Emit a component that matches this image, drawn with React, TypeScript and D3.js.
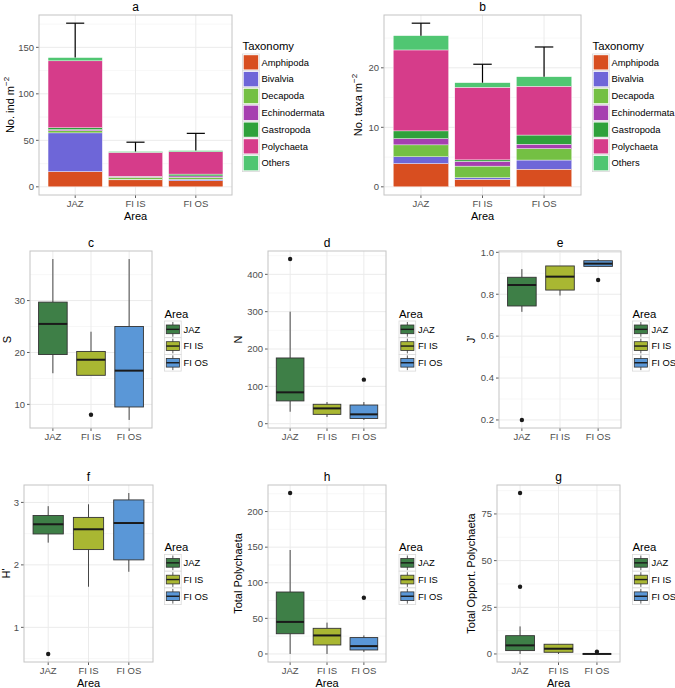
import React from "react";
import * as d3 from "d3";

const areas = ["JAZ", "FI IS", "FI OS"];
const taxa = ["Amphipoda", "Bivalvia", "Decapoda", "Echinodermata", "Gastropoda", "Polychaeta", "Others"];
const taxaColors = ["#D84E20", "#6E66D8", "#74C043", "#A63FB0", "#2FA13B", "#D63C8A", "#50C672"];
const areaColors = ["#3E7F47", "#A9B732", "#5A97D7"];

// panel a: individuals per m2, segment sizes by taxon (stack order bottom->top)
const indJAZ = [16.4, 41.6, 2.3, 1.2, 2.0, 72.0, 3.5];
const indFIIS = [7.5, 0.5, 2.2, 0.8, 0.3, 25.7, 1.0];
const indFIOS = [6.5, 1.5, 2.2, 1.5, 2.0, 24.0, 1.3];
const indErrTop = [176, 48, 57.5];
const indTicks = [0, 50, 100, 150];

// panel b: taxa per m2
const taxJAZ = [3.9, 1.15, 2.0, 1.05, 1.3, 13.6, 2.4];
const taxFIIS = [1.25, 0.28, 1.95, 0.8, 0.25, 12.2, 0.77];
const taxFIOS = [2.96, 1.54, 1.92, 0.74, 1.54, 8.2, 1.6];
const taxErrTop = [27.5, 20.6, 23.5];
const taxTicks = [0, 10, 20];

// box stats: [lower whisker, Q1, median, Q3, upper whisker]
const statS = [[16, 19.6, 25.5, 29.7, 38], [15.6, 15.6, 18.6, 20.2, 24], [7, 9.5, 16.5, 25, 38]];
const outS = [[], [8], []];
const ticksS = [10, 20, 30];

const statN = [[32, 61, 84, 176, 300], [18, 25, 41, 52, 58], [10, 14, 25, 50, 58]];
const outN = [[441], [], [118]];
const ticksN = [0, 100, 200, 300, 400];

const statJ = [[0.716, 0.744, 0.844, 0.881, 0.92], [0.794, 0.82, 0.884, 0.935, 0.935], [0.933, 0.933, 0.946, 0.96, 0.968]];
const outJ = [[0.2], [], [0.868]];
const ticksJ = [0.2, 0.4, 0.6, 0.8, 1.0];

const statH = [[2.356, 2.495, 2.65, 2.79, 2.94], [1.65, 2.245, 2.57, 2.76, 2.97], [1.89, 2.08, 2.67, 3.04, 3.15]];
const outH = [[0.574], [], []];
const ticksH = [1, 2, 3];

const statP = [[0, 28.4, 45, 87, 146], [0, 12.6, 26, 36, 44], [2.8, 5.6, 11, 23, 26]];
const outP = [[226], [], [79]];
const ticksP = [0, 50, 100, 150, 200];

const statO = [[0, 1.8, 4.6, 9.8, 14.75], [0, 0.9, 2.8, 5.2, 5.3], [0, 0, 0, 0, 0]];
const outO = [[36, 86.2], [], [1.2]];
const ticksO = [0, 25, 50, 75];

const FONT = "'Liberation Sans', Arial, Helvetica, sans-serif";

type Rect = { x0: number; y0: number; x1: number; y1: number };

function expand(lo: number, hi: number): [number, number] {
  const d = (hi - lo) * 0.05;
  return [lo - d, hi + d];
}

function Frame({ r, y, ticks, fmt, xs, title, ylab, xlab }: any) {
  const minors: number[] = [];
  const [dlo, dhi] = y.domain();
  const step = ticks[1] - ticks[0];
  for (let v = ticks[0] - step / 2; v <= dhi; v += step) {
    if (v >= dlo) minors.push(v);
  }
  const cx = (r.x0 + r.x1) / 2;
  const cy = (r.y0 + r.y1) / 2;
  return (
    <g>
      <rect x={r.x0} y={r.y0} width={r.x1 - r.x0} height={r.y1 - r.y0} fill="#fff" />
      {minors.map((v, i) => (
        <line key={"mn" + i} x1={r.x0} x2={r.x1} y1={y(v)} y2={y(v)} stroke="#f2f2f2" strokeWidth={0.6} />
      ))}
      {ticks.map((v: number, i: number) => (
        <line key={"mj" + i} x1={r.x0} x2={r.x1} y1={y(v)} y2={y(v)} stroke="#ebebeb" strokeWidth={1} />
      ))}
      {areas.map((a, i) => (
        <line key={"vx" + i} x1={xs(i + 1)} x2={xs(i + 1)} y1={r.y0} y2={r.y1} stroke="#ebebeb" strokeWidth={1} />
      ))}
      {ticks.map((v: number, i: number) => (
        <g key={"yt" + i}>
          <line x1={r.x0 - 3} x2={r.x0} y1={y(v)} y2={y(v)} stroke="#333" strokeWidth={0.8} />
          <text x={r.x0 - 5} y={y(v)} dy="0.35em" textAnchor="end" fontSize={9.5} fill="#4d4d4d" fontFamily={FONT}>
            {fmt ? fmt(v) : String(v)}
          </text>
        </g>
      ))}
      {areas.map((a, i) => (
        <g key={"xt" + i}>
          <line x1={xs(i + 1)} x2={xs(i + 1)} y1={r.y1} y2={r.y1 + 3} stroke="#333" strokeWidth={0.8} />
          <text x={xs(i + 1)} y={r.y1 + 12} textAnchor="middle" fontSize={9.5} fill="#4d4d4d" fontFamily={FONT}>
            {a}
          </text>
        </g>
      ))}
      <text x={cx} y={r.y0 - 4} textAnchor="middle" fontSize={12} fill="#000" fontFamily={FONT}>
        {title}
      </text>
      {xlab && (
        <text x={cx} y={r.y1 + 24.5} textAnchor="middle" fontSize={11} fill="#000" fontFamily={FONT}>
          {xlab}
        </text>
      )}
      <text
        transform={`translate(${ylab.x},${cy}) rotate(-90)`}
        textAnchor="middle"
        dy="0.35em"
        fontSize={11}
        fill="#000"
        fontFamily={FONT}
      >
        {ylab.text}
        {ylab.sup && (
          <tspan fontSize={8} dy="-5">
            {ylab.sup}
          </tspan>
        )}
      </text>
    </g>
  );
}

function Border({ r }: { r: Rect }) {
  return <rect x={r.x0} y={r.y0} width={r.x1 - r.x0} height={r.y1 - r.y0} fill="none" stroke="#c4c4c4" strokeWidth={1} />;
}

function BarPanel({ r, segs, errTop, ticks, title, ylab, legendX }: any) {
  const xs = d3.scaleLinear().domain([0.4, 3.6]).range([r.x0, r.x1]);
  const [lo, hi] = expand(0, d3.max(errTop as number[])!);
  const y = d3.scaleLinear().domain([lo, hi]).range([r.y1, r.y0]);
  const rows = areas.map((a, i) => {
    const o: any = { area: a };
    taxa.forEach((t, j) => (o[t] = segs[i][j]));
    return o;
  });
  const series = d3.stack().keys(taxa)(rows);
  const bw = 0.9;
  const cw = 0.3;
  return (
    <g>
      <Frame r={r} y={y} ticks={ticks} xs={xs} title={title} ylab={ylab} xlab="Area" />
      {series.map((s, j) =>
        s.map((d, i) => (
          <rect
            key={j + "-" + i}
            x={xs(i + 1 - bw / 2)}
            width={xs(bw) - xs(0)}
            y={y(d[1])}
            height={y(d[0]) - y(d[1])}
            fill={taxaColors[j]}
            stroke="#fff"
            strokeWidth={0.4}
          />
        ))
      )}
      {areas.map((a, i) => {
        const top = d3.sum(segs[i] as number[]);
        return (
          <g key={"eb" + i} stroke="#000" strokeWidth={1.2}>
            <line x1={xs(i + 1)} x2={xs(i + 1)} y1={y(top)} y2={y(errTop[i])} />
            <line x1={xs(i + 1 - cw / 2)} x2={xs(i + 1 + cw / 2)} y1={y(errTop[i])} y2={y(errTop[i])} />
          </g>
        );
      })}
      <Border r={r} />
      <text x={legendX} y={50} fontSize={11.3} fontFamily={FONT} fill="#000">
        Taxonomy
      </text>
      {taxa.map((t, j) => {
        const ky = 54 + j * 16.8;
        return (
          <g key={"lg" + j}>
            <rect x={legendX} y={ky} width={16.8} height={16.8} fill="#fff" stroke="#d9d9d9" strokeWidth={0.8} />
            <rect x={legendX + 1} y={ky + 1} width={14.8} height={14.8} fill={taxaColors[j]} stroke="#fff" strokeWidth={0.4} />
            <text x={legendX + 19} y={ky + 8.4} dy="0.35em" fontSize={9.4} fontFamily={FONT} fill="#000">
              {t}
            </text>
          </g>
        );
      })}
    </g>
  );
}

function BoxPanel({ r, stats, outs, ticks, fmt, title, ylab, xlab, legendX, legendY }: any) {
  const xs = d3.scaleLinear().domain([0.4, 3.6]).range([r.x0, r.x1]);
  const all: number[] = [];
  stats.forEach((s: number[]) => all.push(...s));
  outs.forEach((o: number[]) => all.push(...o));
  const [lo, hi] = expand(d3.min(all)!, d3.max(all)!);
  const y = d3.scaleLinear().domain([lo, hi]).range([r.y1, r.y0]);
  const bw = 0.75;
  return (
    <g>
      <Frame r={r} y={y} ticks={ticks} fmt={fmt} xs={xs} title={title} ylab={ylab} xlab={xlab} />
      {stats.map((s: number[], i: number) => {
        const cx = xs(i + 1);
        const xl = xs(i + 1 - bw / 2);
        const w = xs(bw) - xs(0);
        return (
          <g key={"bx" + i}>
            <line x1={cx} x2={cx} y1={y(s[0])} y2={y(s[1])} stroke="#333" strokeWidth={0.9} />
            <line x1={cx} x2={cx} y1={y(s[3])} y2={y(s[4])} stroke="#333" strokeWidth={0.9} />
            <rect x={xl} width={w} y={y(s[3])} height={Math.max(0, y(s[1]) - y(s[3]))} fill={areaColors[i]} stroke="#333" strokeWidth={0.9} />
            <line x1={xl} x2={xl + w} y1={y(s[2])} y2={y(s[2])} stroke="#1a1a1a" strokeWidth={2} />
            {outs[i].map((o: number, k: number) => (
              <circle key={k} cx={cx} cy={y(o)} r={2.2} fill="#1a1a1a" />
            ))}
          </g>
        );
      })}
      <Border r={r} />
      <text x={legendX} y={legendY} fontSize={11.3} fontFamily={FONT} fill="#000">
        Area
      </text>
      {areas.map((a, i) => {
        const ky = legendY + 3.5 + i * 16.7;
        const kx = legendX;
        return (
          <g key={"lg" + i}>
            <rect x={kx} y={ky} width={16.7} height={16.7} fill="#fff" stroke="#d9d9d9" strokeWidth={0.8} />
            <line x1={kx + 8.35} x2={kx + 8.35} y1={ky + 1} y2={ky + 15.7} stroke="#333" strokeWidth={0.8} />
            <rect x={kx + 1.8} y={ky + 4} width={13.1} height={8.7} fill={areaColors[i]} stroke="#333" strokeWidth={0.8} />
            <line x1={kx + 1.8} x2={kx + 14.9} y1={ky + 8.35} y2={ky + 8.35} stroke="#1a1a1a" strokeWidth={1.4} />
            <text x={kx + 19} y={ky + 8.35} dy="0.35em" fontSize={9.4} fontFamily={FONT} fill="#000">
              {a}
            </text>
          </g>
        );
      })}
    </g>
  );
}

export default function App() {
  const W = 675;
  const H = 688;
  return (
    <svg
      width={W}
      height={H}
      viewBox={`0 0 ${W} ${H}`}
      style={{ position: "absolute", left: 0, top: 0, background: "#fff" }}
    >
      <rect width={W} height={H} fill="#fff" />
      <BarPanel
        r={{ x0: 39, y0: 15, x1: 232, y1: 195 }}
        segs={[indJAZ, indFIIS, indFIOS]}
        errTop={indErrTop}
        ticks={indTicks}
        title="a"
        ylab={{ x: 10, text: "No. ind m", sup: "−2" }}
        legendX={242.5}
      />
      <BarPanel
        r={{ x0: 384, y0: 15, x1: 581, y1: 195 }}
        segs={[taxJAZ, taxFIIS, taxFIOS]}
        errTop={taxErrTop}
        ticks={taxTicks}
        title="b"
        ylab={{ x: 358, text: "No. taxa m", sup: "−2" }}
        legendX={592.5}
      />
      <BoxPanel r={{ x0: 30, y0: 251, x1: 152, y1: 428 }} stats={statS} outs={outS} ticks={ticksS} title="c" ylab={{ x: 7, text: "S" }} legendX={164.5} legendY={317.5} />
      <BoxPanel r={{ x0: 268, y0: 251, x1: 386, y1: 428 }} stats={statN} outs={outN} ticks={ticksN} title="d" ylab={{ x: 238, text: "N" }} legendX={399} legendY={317.5} />
      <BoxPanel r={{ x0: 499, y0: 251, x1: 621, y1: 428 }} stats={statJ} outs={outJ} ticks={ticksJ} fmt={(v: number) => v.toFixed(1)} title="e" ylab={{ x: 471.5, text: "J'" }} legendX={632.5} legendY={317.5} />
      <BoxPanel r={{ x0: 24, y0: 485, x1: 153, y1: 662 }} stats={statH} outs={outH} ticks={ticksH} title="f" ylab={{ x: 6, text: "H'" }} xlab="Area" legendX={164.5} legendY={551} />
      <BoxPanel r={{ x0: 268, y0: 485, x1: 386, y1: 662 }} stats={statP} outs={outP} ticks={ticksP} title="h" ylab={{ x: 238, text: "Total Polychaeta" }} xlab="Area" legendX={399} legendY={551} />
      <BoxPanel r={{ x0: 497, y0: 485, x1: 620, y1: 662 }} stats={statO} outs={outO} ticks={ticksO} title="g" ylab={{ x: 471.5, text: "Total Opport. Polychaeta" }} xlab="Area" legendX={632.5} legendY={551} />
    </svg>
  );
}
